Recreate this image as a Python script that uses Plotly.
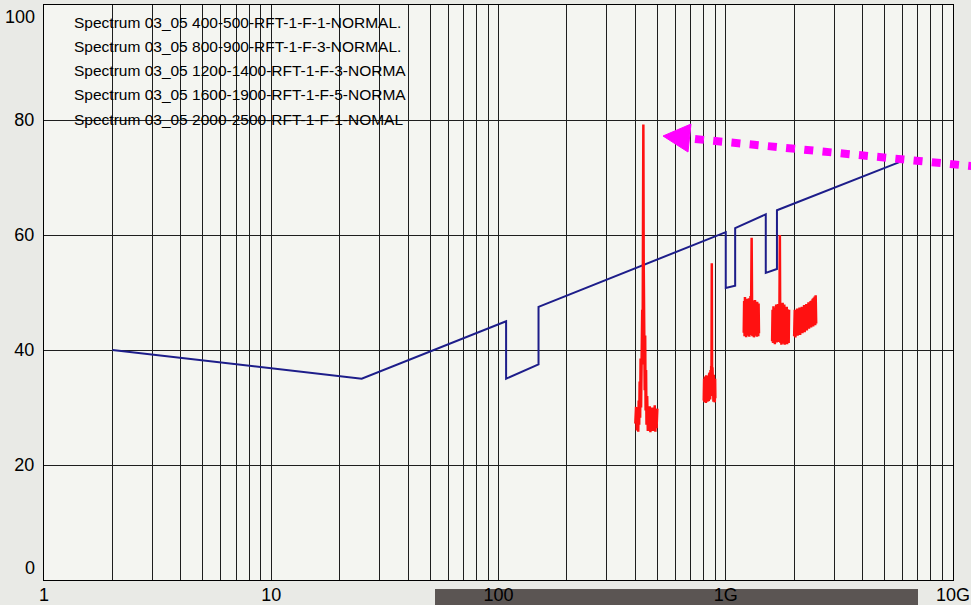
import plotly.graph_objects as go

# ---- limit line (MHz, dBuV) ----
limit_freq = [2, 25, 108, 108, 150, 150, 1000, 1000, 1100, 1100, 1500, 1500, 1680, 1680, 6000]
limit_level = [40, 35, 45, 35, 37.5, 47.5, 60.5, 50.8, 51.2, 61.2, 63.6, 53.4, 54.1, 64.3, 72.9]

# ---- measured spectra, one sweep per band ----
b1_freq = [400, 403, 406, 409, 412, 414, 416, 418, 420, 422, 424, 426, 427.5, 429, 430.5, 432,
           433.9, 435.5, 437, 438.5, 440, 442, 444, 446, 448, 451, 454, 457, 460, 463, 466, 469,
           472, 475, 478, 481, 484, 487, 490, 493, 496, 500]
b1_level = [27.2, 30.1, 26.0, 29.6, 25.8, 31.2, 27.0, 34.5, 28.2, 38.5, 30.0, 44.0, 34.0, 47.0,
            37.5, 57.5, 79.2, 55.0, 40.0, 46.0, 33.0, 42.5, 29.5, 36.5, 27.0, 32.0, 25.9, 29.8,
            26.3, 30.2, 25.7, 29.4, 26.5, 30.0, 25.9, 29.6, 26.2, 30.4, 25.8, 29.2, 26.4, 29.8]

b2_freq = [800, 803, 806, 809, 812, 815, 818, 821, 824, 827, 830, 833, 836, 839, 842, 845, 848,
           851, 854, 857, 860, 863, 865, 866.5, 868, 869.5, 871, 874, 877, 880, 883, 886, 889,
           892, 895, 898, 900]
b2_level = [31.2, 35.0, 30.9, 35.4, 31.5, 34.8, 30.8, 35.6, 31.3, 35.1, 31.0, 35.5, 31.6, 35.3,
            31.1, 35.8, 31.8, 36.0, 31.4, 36.5, 32.0, 37.2, 33.5, 44.0, 55.1, 42.0, 33.0, 37.0,
            31.5, 36.2, 31.0, 35.7, 31.4, 35.3, 30.9, 35.0, 31.6]

b3_freq = [1200, 1205, 1210, 1215, 1220, 1225, 1230, 1235, 1240, 1245, 1250, 1255, 1260, 1265,
           1270, 1275, 1280, 1285, 1290, 1295, 1300, 1305, 1310, 1315, 1320, 1325, 1330, 1335,
           1340, 1345, 1350, 1355, 1360, 1365, 1370, 1375, 1380, 1385, 1390, 1395, 1400]
b3_level = [43.0, 48.5, 42.4, 49.2, 42.8, 47.8, 42.2, 48.9, 43.1, 48.0, 42.5, 48.6, 42.9, 49.0,
            42.3, 48.2, 43.0, 49.4, 42.6, 49.8, 59.5, 48.8, 42.4, 48.1, 42.9, 48.6, 42.2, 47.9,
            43.2, 48.7, 42.5, 48.3, 42.8, 47.6, 42.3, 48.4, 43.0, 47.9, 42.4, 48.1, 42.9]

b4_freq = [1600, 1607, 1615, 1622, 1630, 1637, 1645, 1652, 1660, 1667, 1675, 1682, 1690, 1697,
           1705, 1712, 1720, 1725, 1730, 1735, 1742, 1750, 1757, 1765, 1772, 1780, 1787, 1795,
           1802, 1810, 1817, 1825, 1832, 1840, 1847, 1855, 1862, 1870, 1877, 1885, 1892, 1900]
b4_level = [41.5, 47.0, 41.2, 47.6, 41.8, 46.8, 41.0, 47.3, 41.6, 47.9, 41.3, 47.1, 41.9, 48.0,
            41.4, 47.5, 41.7, 48.3, 60.0, 47.8, 41.2, 47.4, 40.9, 47.7, 41.5, 48.2, 41.1, 47.2,
            41.6, 47.9, 40.9, 47.0, 41.3, 46.8, 41.7, 47.5, 41.0, 47.1, 41.4, 46.6, 41.2, 47.0]

b5_freq = [2000, 2012, 2025, 2037, 2050, 2062, 2075, 2087, 2100, 2112, 2125, 2137, 2150, 2162,
           2175, 2187, 2200, 2212, 2225, 2237, 2250, 2262, 2275, 2287, 2300, 2312, 2325, 2337,
           2350, 2362, 2375, 2387, 2400, 2412, 2425, 2437, 2450, 2462, 2475, 2487, 2500]
b5_level = [42.4, 47.0, 42.2, 46.6, 42.7, 47.2, 42.5, 46.9, 42.8, 47.4, 42.6, 47.1, 43.0, 47.5,
            42.9, 47.3, 43.2, 47.8, 43.1, 47.6, 43.5, 48.0, 43.4, 47.9, 43.8, 48.3, 43.7, 48.2,
            44.0, 48.5, 43.9, 48.6, 44.2, 48.9, 44.1, 49.1, 44.4, 49.3, 44.3, 49.5, 44.6]

band_names = [
    "Spectrum 03_05 400-500-RFT-1-F-1-NORMAL.",
    "Spectrum 03_05 800-900-RFT-1-F-3-NORMAL.",
    "Spectrum 03_05 1200-1400-RFT-1-F-3-NORMA",
    "Spectrum 03_05 1600-1900-RFT-1-F-5-NORMA",
    "Spectrum 03_05 2000-2500-RFT-1-F-1-NOMAL",
]

# ---- axes ----
x_major = [1, 10, 100, 1000, 10000]
x_major_text = ["1", "10", "100", "1G", "10G"]
y_ticks = [0, 20, 40, 60, 80, 100]
y_text = ["0", "20", "40", "60", "80", "100"]

x_grid = [m * d for d in (1, 10, 100, 1000) for m in range(1, 10)] + [10000]
x_grid_text = [x_major_text[x_major.index(v)] if v in x_major else "" for v in x_grid]

W, H = 971, 605
ML, MR, MT, MB = 44, 18, 5, 25
PW, PH = W - ML - MR, H - MT - MB


def px(xp):
    return (xp - ML) / PW


def py(yp):
    return (H - MB - yp) / PH


RED = "#ff1111"
NAVY = "#1d1d8a"
MAGENTA = "#ff00ff"
FONT = "Liberation Sans"

fig = go.Figure()

fig.add_trace(go.Scatter(x=limit_freq, y=limit_level, mode="lines",
                         line=dict(color=NAVY, width=2), name="limit", showlegend=False))

bands = [(b1_freq, b1_level), (b2_freq, b2_level), (b3_freq, b3_level),
         (b4_freq, b4_level), (b5_freq, b5_level)]
for (f, lv), nm in zip(bands, band_names):
    fig.add_trace(go.Scatter(x=f, y=lv, mode="lines", line=dict(color=RED, width=2.5),
                             name=nm, showlegend=False))

# band names listed in the top-left corner
annotations = []
for i, nm in enumerate(band_names):
    annotations.append(dict(text=nm, xref="paper", yref="paper", x=px(72), y=py(22 + 24.3 * i),
                            xanchor="left", yanchor="middle", showarrow=False,
                            font=dict(family=FONT, size=15.5, color="black")))

# end labels of the level axis, kept inside the frame
annotations.append(dict(text="100", xref="paper", yref="y", x=0, y=100, xanchor="right",
                        yanchor="top", xshift=-7, yshift=0, showarrow=False,
                        font=dict(family=FONT, size=18, color="black")))
annotations.append(dict(text="0", xref="paper", yref="y", x=0, y=0, xanchor="right",
                        yanchor="bottom", xshift=-7, yshift=0, showarrow=False,
                        font=dict(family=FONT, size=18, color="black")))

shapes = [
    # dark strip along the bottom edge
    dict(type="rect", xref="paper", yref="paper", x0=px(435), x1=px(918), y0=py(589), y1=py(610),
         fillcolor="#5b5553", line=dict(width=0), layer="below"),
    # dotted pointer toward the 433 MHz peak
    dict(type="line", xref="paper", yref="paper", x0=px(695), y0=py(139), x1=px(990), y1=py(167.9),
         line=dict(color=MAGENTA, width=8, dash="9px,9.3px")),
    dict(type="path", xref="paper", yref="paper",
         path=f"M {px(663)},{py(136)} L {px(691)},{py(124)} L {px(688)},{py(152)} Z",
         fillcolor=MAGENTA, line=dict(color=MAGENTA, width=1)),
]

fig.update_layout(
    width=W, height=H,
    margin=dict(l=ML, r=MR, t=MT, b=MB, autoexpand=False),
    paper_bgcolor="#e9eae6",
    plot_bgcolor="#f4f5f1",
    showlegend=False,
    annotations=annotations,
    shapes=shapes,
    font=dict(family=FONT, size=18, color="black"),
)

fig.update_xaxes(type="log", range=[0, 4], tickvals=x_grid, ticktext=x_grid_text,
                 showgrid=True, gridcolor="#1e1e1e", gridwidth=1, ticks="",
                 showline=True, linecolor="black", linewidth=1, mirror=True,
                 zeroline=False, tickfont=dict(family=FONT, size=18, color="black"),
                 ticklabelstandoff=-2, automargin=False)
fig.update_yaxes(range=[0, 100], tickvals=y_ticks,
                 ticktext=["" if t in ("0", "100") else t for t in y_text],
                 showgrid=True, gridcolor="#1e1e1e", gridwidth=1, ticks="",
                 showline=True, linecolor="black", linewidth=1, mirror=True,
                 zeroline=False, tickfont=dict(family=FONT, size=18, color="black"),
                 ticklabelstandoff=5, automargin=False)

fig.write_html("out.html")
